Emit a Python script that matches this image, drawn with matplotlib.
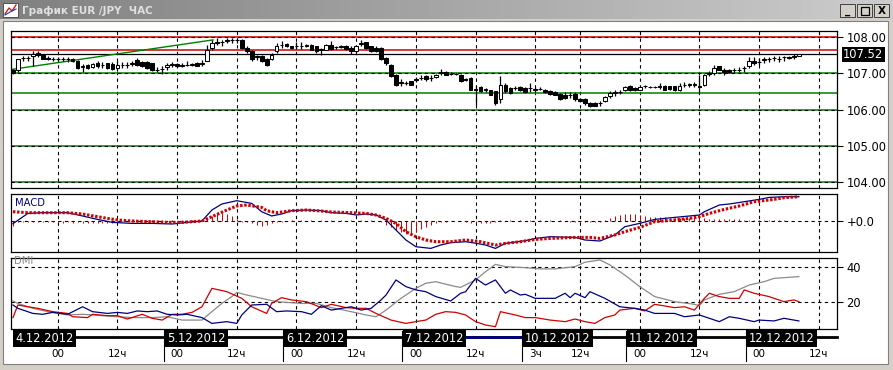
import numpy as np
import matplotlib
matplotlib.use("Agg")
import matplotlib.pyplot as plt
import matplotlib.transforms as mtransforms
from matplotlib.patches import Rectangle
from matplotlib.lines import Line2D

W, H = 893, 370

# ---------------- data (hourly EUR/JPY, bar 0 = 4.12.2012 00:00) ----------------
first_bar = -9
bar_open = [107.10, 107.10, 107.43, 107.42, 107.47, 107.56, 107.51, 107.42, 107.39, 107.39,
            107.40, 107.39, 107.38, 107.33, 107.17, 107.24, 107.17, 107.28, 107.22, 107.27,
            107.26, 107.15, 107.23, 107.24, 107.25, 107.36, 107.30, 107.30, 107.27, 107.09,
            107.11, 107.17, 107.24, 107.26, 107.21, 107.23, 107.24, 107.28, 107.26, 107.33,
            107.70, 107.84, 107.85, 107.90, 107.91, 107.92, 107.91, 107.70, 107.61, 107.46,
            107.49, 107.38, 107.38, 107.61, 107.78, 107.81, 107.74, 107.74, 107.76, 107.76,
            107.79, 107.74, 107.65, 107.65, 107.79, 107.72, 107.73, 107.76, 107.70, 107.61,
            107.82, 107.85, 107.74, 107.70, 107.70, 107.42, 107.24, 106.96, 106.74, 106.73,
            106.78, 106.82, 106.87, 106.92, 106.86, 106.90, 107.02, 107.03, 106.98, 106.98,
            106.96, 106.83, 106.87, 106.55, 106.62, 106.55, 106.53, 106.50, 106.28, 106.69,
            106.60, 106.59, 106.62, 106.60, 106.60, 106.56, 106.57, 106.55, 106.50, 106.48,
            106.43, 106.41, 106.40, 106.44, 106.29, 106.29, 106.18, 106.18, 106.18, 106.23,
            106.37, 106.47, 106.48, 106.53, 106.64, 106.60, 106.55, 106.64, 106.63, 106.62,
            106.63, 106.66, 106.64, 106.64, 106.55, 106.68, 106.69, 106.69, 106.64, 106.69,
            106.99, 107.01, 107.19, 107.10, 107.10, 107.08, 107.10, 107.14, 107.19, 107.33,
            107.30, 107.37, 107.38, 107.41, 107.40, 107.44, 107.45, 107.46, 107.49]
bar_high = [107.12, 107.39, 107.49, 107.49, 107.61, 107.61, 107.54, 107.47, 107.45, 107.45,
            107.45, 107.45, 107.42, 107.36, 107.26, 107.26, 107.28, 107.33, 107.30, 107.29,
            107.30, 107.33, 107.30, 107.30, 107.33, 107.42, 107.33, 107.33, 107.28, 107.17,
            107.19, 107.27, 107.30, 107.28, 107.28, 107.33, 107.28, 107.30, 107.36, 107.79,
            107.93, 107.97, 107.93, 107.97, 107.97, 107.97, 107.95, 107.74, 107.65, 107.51,
            107.51, 107.42, 107.56, 107.83, 107.88, 107.83, 107.76, 107.85, 107.85, 107.81,
            107.81, 107.76, 107.70, 107.81, 107.88, 107.76, 107.78, 107.79, 107.74, 107.76,
            107.91, 107.87, 107.76, 107.74, 107.72, 107.44, 107.26, 106.98, 106.83, 106.80,
            106.80, 106.89, 106.94, 106.94, 106.94, 106.98, 107.12, 107.05, 107.03, 107.01,
            106.98, 106.87, 106.89, 106.64, 106.66, 106.60, 106.55, 106.52, 106.92, 106.73,
            106.62, 106.64, 106.64, 106.62, 106.73, 106.62, 106.62, 106.57, 106.53, 106.50,
            106.45, 106.48, 106.48, 106.48, 106.32, 106.31, 106.20, 106.20, 106.25, 106.37,
            106.50, 106.53, 106.53, 106.64, 106.69, 106.62, 106.64, 106.69, 106.66, 106.66,
            106.73, 106.68, 106.66, 106.66, 106.73, 106.75, 106.73, 106.75, 106.96, 106.98,
            107.06, 107.24, 107.21, 107.15, 107.12, 107.15, 107.17, 107.21, 107.45, 107.45,
            107.42, 107.45, 107.45, 107.49, 107.47, 107.49, 107.47, 107.54, 107.54]
bar_low = [106.99, 107.03, 107.33, 107.35, 107.19, 107.45, 107.38, 107.36, 107.33, 107.33,
           107.33, 107.30, 107.30, 107.12, 107.03, 107.12, 107.15, 107.15, 107.15, 107.13,
           107.10, 107.06, 107.15, 107.15, 107.21, 107.19, 107.17, 107.12, 107.06, 107.03,
           106.99, 107.08, 107.17, 107.17, 107.17, 107.19, 107.19, 107.19, 107.19, 107.33,
           107.65, 107.79, 107.74, 107.83, 107.83, 107.83, 107.68, 107.56, 107.33, 107.36,
           107.30, 107.19, 107.36, 107.56, 107.70, 107.72, 107.67, 107.67, 107.67, 107.72,
           107.63, 107.56, 107.51, 107.63, 107.65, 107.67, 107.70, 107.65, 107.54, 107.59,
           107.74, 107.68, 107.59, 107.58, 107.36, 107.24, 106.90, 106.66, 106.66, 106.67,
           106.67, 106.75, 106.81, 106.80, 106.80, 106.88, 106.96, 106.94, 106.96, 106.96,
           106.76, 106.78, 106.53, 106.14, 106.48, 106.48, 106.39, 106.14, 106.18, 106.46,
           106.44, 106.53, 106.50, 106.46, 106.48, 106.48, 106.53, 106.46, 106.41, 106.39,
           106.27, 106.28, 106.32, 106.23, 106.21, 106.14, 106.07, 106.09, 106.11, 106.21,
           106.32, 106.37, 106.44, 106.50, 106.50, 106.50, 106.53, 106.60, 106.59, 106.59,
           106.57, 106.53, 106.55, 106.51, 106.50, 106.62, 106.62, 106.62, 106.46, 106.66,
           106.92, 106.96, 107.08, 106.96, 107.01, 107.01, 107.03, 107.03, 107.15, 107.24,
           107.24, 107.28, 107.30, 107.33, 107.30, 107.33, 107.40, 107.39, 107.48]
bar_close = [107.01, 107.38, 107.42, 107.43, 107.54, 107.51, 107.40, 107.38, 107.39, 107.40,
             107.39, 107.38, 107.33, 107.15, 107.19, 107.15, 107.26, 107.19, 107.24, 107.15,
             107.12, 107.24, 107.24, 107.23, 107.28, 107.24, 107.19, 107.15, 107.08, 107.10,
             107.12, 107.24, 107.24, 107.19, 107.22, 107.24, 107.24, 107.21, 107.27, 107.65,
             107.83, 107.85, 107.86, 107.91, 107.93, 107.91, 107.70, 107.61, 107.39, 107.47,
             107.33, 107.24, 107.51, 107.76, 107.78, 107.74, 107.70, 107.75, 107.76, 107.77,
             107.65, 107.61, 107.66, 107.79, 107.67, 107.72, 107.74, 107.67, 107.61, 107.74,
             107.83, 107.70, 107.61, 107.61, 107.38, 107.27, 106.92, 106.69, 106.75, 106.73,
             106.69, 106.83, 106.87, 106.83, 106.87, 106.96, 107.03, 106.96, 106.99, 106.98,
             106.78, 106.82, 106.55, 106.56, 106.50, 106.55, 106.41, 106.17, 106.69, 106.50,
             106.46, 106.60, 106.53, 106.48, 106.60, 106.55, 106.57, 106.48, 106.44, 106.41,
             106.29, 106.32, 106.39, 106.28, 106.23, 106.17, 106.09, 106.11, 106.19, 106.35,
             106.46, 106.48, 106.48, 106.62, 106.55, 106.53, 106.62, 106.64, 106.62, 106.62,
             106.64, 106.55, 106.57, 106.53, 106.64, 106.69, 106.69, 106.70, 106.63, 106.96,
             107.00, 107.15, 107.10, 107.03, 107.03, 107.08, 107.10, 107.15, 107.33, 107.27,
             107.30, 107.38, 107.38, 107.42, 107.39, 107.45, 107.42, 107.47, 107.53]

trend_x = [-9.1, 31.2]
trend_y = [107.11, 107.92]
level_green = [106.45]
level_red = [108.00, 107.63]
last_price = 107.52

# MACD (line, signal) sampled along the bars
macd_x = [-9, -6, -3, 2, 5, 8, 11, 15, 19, 23, 26, 29, 31, 33, 36, 39, 41, 43, 45, 47,
          50, 53, 55, 58, 60, 62, 64, 66, 68, 70, 72, 75, 77, 79, 82, 84, 86, 88, 90, 94,
          96, 99, 104, 106, 109, 112, 114, 117, 120, 124, 127, 129, 130, 133, 135, 138,
          141, 143, 146, 149]
macd_y = [-0.03, 0.073, 0.08, 0.08, 0.047, 0.013, -0.017, -0.027, -0.027, -0.033, -0.017,
          -0.003, 0.107, 0.167, 0.2, 0.173, 0.09, 0.047, 0.067, 0.1,
          0.107, 0.1, 0.08, 0.073, 0.057, 0.067, 0.057, 0.007, -0.093, -0.193,
          -0.26, -0.277, -0.243, -0.22, -0.21, -0.225, -0.243, -0.277, -0.227, -0.2,
          -0.177, -0.16, -0.167, -0.193, -0.203, -0.143, -0.06, -0.027, 0.013, 0.033,
          0.047, 0.057, 0.09, 0.157, 0.167, 0.19, 0.213, 0.233, 0.24, 0.24]
signal_x = [-9, -6, 2, 5, 8, 12, 15, 19, 22, 25, 29, 31, 34, 36, 38, 41, 42, 44, 47, 50,
            53, 55, 59, 62, 64, 66, 68, 70, 72, 74, 76, 79, 82, 85, 88, 90, 93, 96, 99,
            104, 107, 109, 112, 114, 117, 120, 124, 127, 129, 131, 134, 137, 140, 144,
            146, 149]
signal_y = [0.09, 0.08, 0.08, 0.067, 0.04, 0.007, -0.003, -0.01, -0.017, -0.017, -0.003,
            0.04, 0.107, 0.147, 0.157, 0.133, 0.1, 0.08, 0.1, 0.107,
            0.097, 0.087, 0.08, 0.073, 0.057, 0.023, -0.027, -0.11, -0.16, -0.193,
            -0.21, -0.21, -0.193, -0.21, -0.243, -0.227, -0.21, -0.187, -0.177,
            -0.167, -0.167, -0.177, -0.143, -0.11, -0.067, -0.01, 0.007, 0.023,
            0.04, 0.073, 0.113, 0.147, 0.19, 0.213, 0.23, 0.24]
macd_hist = [-0.05,
             -0.01, -0.01, -0.012, -0.01, -0.012, -0.01, -0.01, -0.015,
             -0.015, -0.02, -0.015, -0.02, -0.015, -0.02, -0.02, -0.025, -0.02, -0.025,
             -0.02, -0.02, -0.015, -0.01, -0.005, 0.003, -0.004, 0.003, -0.004, 0.003,
             -0.004, 0.003, -0.004, 0.003, -0.004, 0.003, -0.004, 0.003, -0.003, 0.01,
             0.027, 0.05, 0.067, 0.073, 0.067, 0.05, 0.017, -0.01, -0.017, -0.027,
             -0.04, -0.05, -0.04, -0.027, -0.017, -0.01, -0.004, 0.003, -0.004, 0.003,
             -0.004, 0.003, -0.004, 0.003, -0.004, 0.003, -0.004, 0.003, -0.004, 0.003,
             -0.004, 0.003, -0.004, 0.003, -0.004, -0.017, -0.04, -0.067, -0.093, -0.117,
             -0.133, -0.127, -0.117, -0.083, -0.06, -0.04, -0.027, -0.017, -0.01, -0.005,
             -0.005, -0.005, -0.01, -0.02, -0.025, -0.027, -0.025, -0.02, -0.01, 0.003,
             -0.004, 0.003, -0.004, 0.003, -0.004, 0.003, -0.004, 0.003, -0.004, 0.003,
             -0.004, 0.003, -0.004, -0.01, -0.01, -0.01, -0.01, -0.01, -0.01, -0.01,
             0.01, 0.03, 0.045, 0.06, 0.067, 0.067, 0.067, 0.06, 0.05, 0.04,
             0.038, 0.035, 0.033, 0.032, 0.03, 0.03, 0.028, 0.027, 0.025, 0.025,
             0.023, 0.022, 0.02, 0.02, 0.018, 0.017, 0.015, 0.013, 0.012, 0.01,
             0.008, 0.007, 0.006, 0.005, 0.004, 0.003, 0.003, 0.002, 0.002, 0.002]

# DMI: ADX (grey), +DI (navy), -DI (red)
adx_x = [-9, -8, -5, -2, 2, 5, 9, 12, 15, 19, 22, 25, 29, 31, 33, 35, 36, 38, 41, 44,
         49, 52, 55, 59, 62, 64, 66, 69, 72, 74, 76, 80, 81, 84, 86, 88, 90, 94, 97,
         100, 104, 106, 109, 111, 114, 117, 120, 124, 128, 129, 130, 133, 136, 139,
         142, 144, 149]
adx_y = [20.4, 19.0, 16.2, 14.3, 12.4, 12.8, 12.0, 11.4, 10.9, 10.9, 11.4, 9.5, 9.5,
         14.3, 19.0, 22.9, 25.3, 23.8, 21.9, 20.0, 19.0, 19.0, 16.6, 14.3, 12.4, 11.4,
         15.2, 21.9, 27.6, 30.5, 31.4, 28.6, 28.2, 32.4, 37.1, 41.3, 40.0, 39.4, 38.7,
         38.7, 40.0, 42.5, 43.8, 41.0, 35.2, 28.6, 22.9, 20.0, 18.5, 17.7, 21.0, 24.2,
         25.7, 29.5, 31.4, 33.3, 34.3]
pdi_x = [-9, -8, -5, -3, -1, 2, 5, 7, 10, 12, 14, 16, 18, 20, 22, 24, 26, 29, 31, 34,
         36, 37, 39, 42, 44, 46, 49, 51, 53, 55, 59, 61, 63, 65, 66, 68, 70, 72, 74, 76,
         79, 81, 82, 84, 86, 88, 90, 91, 93, 94, 96, 98, 100, 102, 103, 104, 106, 107,
         110, 113, 116, 118, 120, 124, 126, 129, 131, 133, 135, 137, 140, 141, 144, 146,
         149]
pdi_y = [18.1, 16.2, 13.3, 12.8, 13.9, 12.8, 17.1, 14.3, 13.3, 13.9, 13.3, 14.7, 14.3,
         14.7, 12.8, 12.4, 12.8, 10.9, 7.6, 8.6, 7.6, 12.4, 18.1, 18.5, 14.3, 14.7, 14.3,
         12.8, 17.7, 15.2, 17.1, 15.2, 16.2, 21.0, 23.8, 32.4, 28.6, 26.7, 25.7, 22.9,
         20.4, 24.8, 25.7, 33.3, 29.5, 32.4, 24.8, 26.7, 23.8, 24.2, 21.9, 21.9, 21.9,
         24.8, 22.3, 24.8, 22.3, 25.7, 21.9, 17.1, 16.2, 15.2, 13.3, 13.3, 11.4, 12.4,
         10.5, 8.6, 11.4, 10.5, 8.6, 9.5, 9.0, 10.5, 9.0]
mdi_x = [-9, -8, -6, -4, -1, 2, 3, 6, 7, 10, 12, 14, 17, 19, 21, 23, 25, 27, 29, 31,
         34, 37, 39, 42, 43, 45, 47, 50, 53, 55, 58, 60, 62, 64, 67, 70, 72, 74, 76, 78,
         80, 82, 84, 86, 88, 89, 92, 94, 96, 99, 102, 104, 106, 108, 110, 112, 113, 116,
         118, 120, 124, 126, 128, 130, 131, 133, 135, 137, 138, 140, 143, 146, 148, 149]
mdi_y = [10.9, 18.1, 17.1, 16.2, 14.3, 13.3, 11.4, 10.9, 12.8, 12.0, 12.0, 10.1, 12.8,
         10.5, 9.5, 12.8, 12.8, 13.9, 17.1, 27.6, 25.7, 21.9, 17.1, 13.3, 19.0, 22.3,
         21.0, 20.0, 16.6, 18.5, 16.6, 16.2, 16.2, 13.3, 9.5, 7.6, 8.6, 9.5, 12.8, 14.3,
         13.9, 12.4, 8.6, 6.7, 5.7, 14.3, 12.4, 10.9, 10.9, 9.5, 8.6, 10.1, 8.6, 7.6,
         10.9, 12.4, 15.2, 16.2, 14.7, 18.5, 16.6, 17.1, 15.2, 21.9, 24.8, 22.9, 21.9,
         21.9, 26.7, 24.8, 22.9, 20.0, 21.0, 20.0]

day_labels = ["4.12.2012", "5.12.2012", "6.12.2012", "7.12.2012",
              "10.12.2012", "11.12.2012", "12.12.2012"]
day_bars = [0, 24, 48, 72, 96, 117, 141]
hour_bars = [0, 12, 24, 36, 48, 60, 72, 84, 96, 105, 117, 129, 141, 153]
hour_labels = ["00", "12ч", "00", "12ч", "00", "12ч", "00", "12ч",
               "3ч", "12ч", "00", "12ч", "00", "12ч"]
price_ticks = [104, 105, 106, 107, 108]
dmi_ticks = [20, 40]

# ---------------- layout helpers ----------------
XMIN, XMAX = -9.33, 156.6
PX_L, PX_R = 11.3, 836.7
DASH = (0, (3, 3))
RED = "#d00000"
NAVY = "#000080"
GREEN = "#008000"
plt.rcParams["font.family"] = ["DejaVu Sans"]


def fy(y):
    return 1 - y / H


def panel(top, bottom):
    ax = fig.add_axes([PX_L / W, fy(bottom), (PX_R - PX_L) / W, (bottom - top) / H])
    ax.set_xlim(XMIN, XMAX)
    ax.set_xticks([])
    ax.yaxis.tick_right()
    ax.tick_params(axis="y", length=4, width=0.8, pad=3, labelsize=8.3, colors="black")
    for s in ax.spines.values():
        s.set_linewidth(0.9)
        s.set_color("black")
    for b in hour_bars:
        ax.axvline(b, color="black", lw=0.8, ls=DASH, zorder=1)
    return ax


fig = plt.figure(figsize=(W / 100, H / 100), dpi=100)
fig.patch.set_facecolor("#d4d0c8")

# window chrome
fig.add_artist(Rectangle((3 / W, fy(364)), 885 / W, 343 / H, transform=fig.transFigure,
                         facecolor="white", edgecolor="#808080", lw=0.8, zorder=0))
tb = fig.add_axes([0, fy(19.5), 1, 19.5 / H])
tb.imshow(np.linspace(0.50, 0.80, 256).reshape(1, -1), cmap="gray", vmin=0, vmax=1,
          aspect="auto", extent=(0, 1, 0, 1))
tb.set_axis_off()
fig.text(22 / W, fy(10.5), "График EUR /JPY  ЧАС", color="#e0e0e0", fontsize=7.5,
         fontweight="bold", va="center", ha="left")
fig.add_artist(Rectangle((3 / W, fy(17)), 15 / W, 14 / H, transform=fig.transFigure,
                         facecolor="white", edgecolor="#404040", lw=0.6))
fig.add_artist(Line2D([5 / W, 9 / W, 12 / W, 16 / W], [fy(14), fy(8), fy(11), fy(5)],
                      color="#cc2020", lw=1.0))
fig.add_artist(Line2D([5 / W, 10 / W, 16 / W], [fy(15), fy(12), fy(9)],
                      color="#2040c0", lw=0.8))
for bx, glyph in zip([840, 857, 874], ["_", "", "X"]):
    fig.add_artist(Rectangle((bx / W, fy(17)), 15 / W, 13 / H, transform=fig.transFigure,
                             facecolor="#d4d0c8", edgecolor="#404040", lw=0.7))
    if glyph:
        fig.text((bx + 7.5) / W, fy(10.5), glyph, ha="center", va="center",
                 fontsize=7.5, fontweight="bold", color="black")
fig.add_artist(Rectangle((860.5 / W, fy(14.5)), 8 / W, 8 / H, transform=fig.transFigure,
                         facecolor="none", edgecolor="black", lw=0.9))

# ---------------- main price panel ----------------
ax = panel(31, 188)
ax.set_ylim(103.84, 108.165)
for lvl in price_ticks[:-1] + level_green:
    ax.axhline(lvl, color=GREEN, lw=1.1, zorder=1)
for lvl in level_red:
    ax.axhline(lvl, color=RED, lw=1.1, zorder=1)
ax.axhline(last_price, color="black", lw=0.9, zorder=1)
for lvl in price_ticks:
    ax.axhline(lvl, color="black", lw=0.8, ls=DASH, zorder=1.5)
ax.plot(trend_x, trend_y, color=GREEN, lw=1.0, zorder=2)

x = np.arange(first_bar, first_bar + len(bar_close))
o = np.array(bar_open)
c = np.array(bar_close)
ax.vlines(x, bar_low, bar_high, color="black", lw=0.9, zorder=3)
bottom = np.minimum(o, c)
height = np.maximum(np.abs(c - o), 0.004)
up = c >= o
ax.bar(x[up], height[up], bottom=bottom[up], width=0.75, facecolor="white",
       edgecolor="black", lw=0.75, zorder=4)
ax.bar(x[~up], height[~up], bottom=bottom[~up], width=0.75, facecolor="black",
       edgecolor="black", lw=0.75, zorder=4)
ax.set_yticks(price_ticks)
ax.set_yticklabels(["%.2f" % p for p in price_ticks])
ax.text(1.0075, last_price, "%.2f" % last_price, transform=ax.get_yaxis_transform(),
        color="white", fontsize=8.3, va="center", ha="left",
        bbox=dict(boxstyle="square,pad=0.12", facecolor="black", edgecolor="none"))

# ---------------- MACD panel ----------------
am = panel(194, 251.7)
am.set_ylim(-0.31, 0.267)
am.axhline(0, color="black", lw=0.8, ls=DASH, zorder=1)
am.vlines(x, 0, macd_hist, color=RED, lw=0.7, zorder=2)
am.plot(macd_x, macd_y, color=NAVY, lw=0.9, zorder=3)
am.plot(signal_x, signal_y, color=RED, lw=2.2, ls=(0, (0.8, 0.55)),
        dash_capstyle="butt", zorder=4)
am.set_yticks([0])
am.set_yticklabels(["+0.0"])
am.text(0.004, 0.93, "MACD", transform=am.transAxes, color=NAVY, fontsize=7.2,
        va="top", ha="left")

# ---------------- DMI panel ----------------
ad = panel(257.7, 329)
ad.set_ylim(4.4, 45.1)
for lvl in dmi_ticks:
    ad.axhline(lvl, color="black", lw=0.8, ls=DASH, zorder=1)
ad.plot(adx_x, adx_y, color="#8a8a8a", lw=0.9, zorder=2)
ad.plot(mdi_x, mdi_y, color=RED, lw=0.9, zorder=3)
ad.plot(pdi_x, pdi_y, color=NAVY, lw=0.9, zorder=4)
ad.set_yticks(dmi_ticks)
ad.text(0.003, 40.3, "DMI", transform=ad.get_yaxis_transform(), color="#8a8a8a",
        fontsize=7.2, va="bottom", ha="left")

# ---------------- time axis ----------------
tr = mtransforms.blended_transform_factory(ad.transData, fig.transFigure)
fig.add_artist(Line2D([-6, XMAX], [fy(336.5), fy(336.5)], transform=tr,
                      color="black", lw=2.0))
fig.add_artist(Line2D([82, 93.3], [fy(336.5), fy(336.5)], transform=tr,
                      color=NAVY, lw=2.0))
for i, (lab, b) in enumerate(zip(day_labels, day_bars)):
    left = b - 2.7 if i > 0 else XMIN + 0.25
    if i > 0:
        fig.add_artist(Line2D([left, left], [fy(331), fy(361)], transform=tr,
                              color="black", lw=0.8))
    fig.text(left + 0.6, fy(338), lab, transform=tr, color="white", fontsize=8.3,
             ha="left", va="center",
             bbox=dict(boxstyle="square,pad=0.22", facecolor="black", edgecolor="none"))
for b, lab in zip(hour_bars, hour_labels):
    fig.text(b, fy(354), lab, transform=tr, fontsize=7.5, ha="center", va="center",
             color="black")

fig.savefig("out.png", dpi=100, facecolor=fig.get_facecolor())
